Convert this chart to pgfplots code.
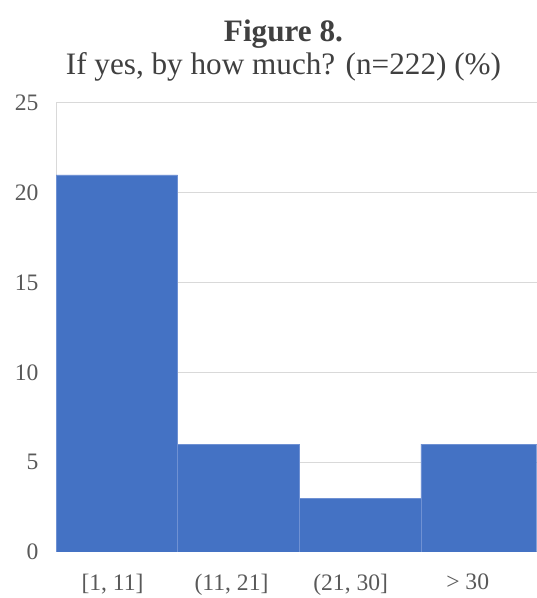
\documentclass[border=0pt]{standalone}
\usepackage{fontspec}
\setmainfont{Liberation Serif}
\usepackage{pgfplots}
\pgfplotsset{compat=1.18}
\definecolor{barblue}{HTML}{4472C4}
\definecolor{sepblue}{HTML}{6F91D3}
\definecolor{gridgray}{HTML}{D9D9D9}
\definecolor{ticktext}{HTML}{595959}
\definecolor{titletext}{HTML}{404040}
\begin{document}
\begin{tikzpicture}
\path[use as bounding box] (-42pt,-34.5pt) rectangle (360.4pt,414pt);
\begin{axis}[
 at={(0,0)}, anchor=south west, scale only axis,
 width=360.4pt, height=336.75pt,
 xmin=0, xmax=3.95, ymin=0, ymax=25,
 ytick={0,5,...,25},
 xtick={0.465,1.443,2.422,3.384},
 xticklabels={{[1, 11]},{(11, 21]},{(21, 30]},{> 30}},
 ymajorgrids, grid style={gridgray, line width=0.75pt},
 axis x line*=bottom, axis y line*=left,
 axis line style={gridgray, line width=0.75pt, -},
 major tick length=0pt,
 tick label style={font=\fontsize{17.7}{20}\selectfont, text=ticktext},
 yticklabel style={inner sep=0pt, xshift=-13pt},
 xticklabel style={inner sep=0pt, yshift=-16.5pt},
 /pgf/number format/assume math mode=true,
 clip=true,
]
\addplot[ybar interval, fill=barblue, draw=sepblue, line width=0.4pt] coordinates {(0,21) (1,6) (2,3) (3,6) (4,6)};
\end{axis}
\node[anchor=base, font=\fontsize{23.4}{28}\selectfont\bfseries, text=titletext] at (170.6pt,382.5pt) {Figure 8.};
\node[anchor=base, font=\fontsize{23.4}{28}\selectfont, text=titletext] at (170.6pt,357.75pt) {If yes, by how much? (n=222) (\%)};
\end{tikzpicture}
\end{document}
